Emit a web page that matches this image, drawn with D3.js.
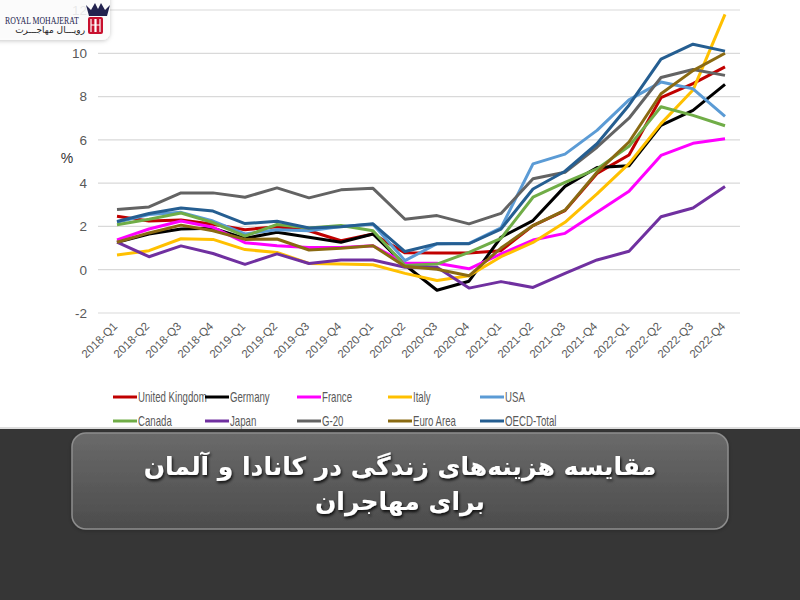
<!DOCTYPE html>
<html><head><meta charset="utf-8">
<script src="https://cdn.jsdelivr.net/npm/d3@7"></script>
<style>html,body{margin:0;padding:0;background:#fff;}svg{display:block;}</style>
</head><body>
<svg id="chart" width="800" height="600"></svg>
<script>
const categories = ["2018-Q1","2018-Q2","2018-Q3","2018-Q4","2019-Q1","2019-Q2","2019-Q3","2019-Q4","2020-Q1","2020-Q2","2020-Q3","2020-Q4","2021-Q1","2021-Q2","2021-Q3","2021-Q4","2022-Q1","2022-Q2","2022-Q3","2022-Q4"];
const yTicks = [-2,0,2,4,6,8,10,12];
const seriesNames = ["United Kingdom","Germany","France","Italy","USA","Canada","Japan","G-20","Euro Area","OECD-Total"];
const seriesColors = ["#c00000","#000000","#ff00ff","#ffc000","#5b9bd5","#70ad47","#7030a0","#636363","#8a6a12","#255e91"];
const ukValues      = [2.47,2.25,2.3,2.1,1.85,1.99,1.8,1.34,1.65,0.78,0.77,0.77,0.88,2.04,2.73,4.45,5.3,7.95,8.6,9.37];
const germanyValues = [1.27,1.65,1.88,1.92,1.45,1.73,1.5,1.27,1.65,0.22,-0.95,-0.53,1.5,2.27,3.85,4.72,4.8,6.67,7.36,8.56];
const franceValues  = [1.38,1.88,2.25,1.96,1.25,1.11,1.03,1.03,1.11,0.3,0.3,0.04,0.73,1.37,1.68,2.65,3.62,5.28,5.84,6.05];
const italyValues   = [0.68,0.88,1.43,1.4,0.93,0.8,0.29,0.26,0.23,-0.17,-0.5,-0.28,0.6,1.26,2.19,3.5,4.9,6.75,8.3,11.8];
const usaValues     = [2.19,2.55,2.65,2.25,1.65,1.85,1.8,2.0,2.1,0.42,1.2,1.22,1.93,4.89,5.34,6.44,7.85,8.67,8.36,7.08];
const canadaValues  = [2.08,2.33,2.62,2.18,1.55,2.09,1.93,2.04,1.8,0.19,0.26,0.8,1.45,3.35,4.04,4.66,5.7,7.53,7.13,6.65];
const japanValues   = [1.27,0.6,1.1,0.75,0.25,0.73,0.29,0.45,0.45,0.11,0.11,-0.85,-0.55,-0.82,-0.17,0.45,0.85,2.45,2.85,3.84];
const g20Values     = [2.78,2.9,3.55,3.55,3.35,3.78,3.32,3.69,3.76,2.33,2.5,2.12,2.6,4.2,4.5,5.66,7.0,8.88,9.25,8.98];
const euroValues    = [1.27,1.7,2.06,1.8,1.4,1.42,0.91,0.99,1.11,0.15,0.02,-0.28,1.0,2.04,2.75,4.5,5.9,8.13,9.2,10.0];
const oecdValues    = [2.23,2.6,2.85,2.71,2.13,2.24,1.93,1.99,2.12,0.84,1.2,1.2,1.88,3.73,4.55,5.82,7.6,9.73,10.42,10.1];
const allValues = [ukValues,germanyValues,franceValues,italyValues,usaValues,canadaValues,japanValues,g20Values,euroValues,oecdValues];
const titleLines = ["مقایسه هزینه‌های زندگی در کانادا و آلمان","برای مهاجران"];

const svg = d3.select("#chart");
const x = d3.scaleBand().domain(categories).range([101,741]).padding(0);
const xc = d => x(d) + x.bandwidth()/2;
const y = d3.scaleLinear().domain([-2,12]).range([313,10]);

// gridlines
svg.append("g").selectAll("line").data(yTicks).join("line")
  .attr("x1",98).attr("x2",740).attr("y1",d=>y(d)).attr("y2",d=>y(d))
  .attr("stroke","#d9d9d9").attr("stroke-width",1.2);

// y axis labels
const yAxis = d3.axisLeft(y).tickValues(yTicks).tickSize(0).tickPadding(0).tickFormat(d=>String(d));
const gy = svg.append("g").attr("transform","translate(87,0)").call(yAxis);
gy.select(".domain").remove();
gy.selectAll("text").attr("fill","#595959").style("font-family","'Liberation Sans',Arial,sans-serif").style("font-size","13.5px").attr("x",0);

svg.append("text").attr("x",67).attr("y",163).attr("text-anchor","middle")
  .style("font-family","'Liberation Sans',Arial,sans-serif").style("font-size","14px").attr("fill","#333").text("%");

// x axis labels
const xAxis = d3.axisBottom(x).tickSize(0).tickPadding(0);
const gx = svg.append("g").call(xAxis);
gx.select(".domain").remove();
gx.selectAll(".tick").attr("transform",null);
gx.selectAll(".tick text")
  .attr("transform",d=>`translate(${xc(d)+1},327) rotate(-45)`)
  .attr("x",0).attr("y",0).attr("dy",null)
  .attr("text-anchor","end").attr("fill","#595959")
  .style("font-family","'Liberation Sans',Arial,sans-serif").style("font-size","11.5px");

// lines
const line = d3.line().x((d,i)=>xc(categories[i])).y(d=>y(d));
svg.append("g").selectAll("path").data(allValues).join("path")
  .attr("d",line).attr("fill","none")
  .attr("stroke",(d,i)=>seriesColors[i]).attr("stroke-width",3)
  .attr("stroke-linejoin","round");

// legend
const legCols = [113,205,297,388,480];
const legRows = [397,421];
const legScale = 0.69;
const leg = svg.append("g").selectAll("g").data(seriesNames).join("g")
  .attr("transform",(d,i)=>`translate(${legCols[i%5]},${legRows[Math.floor(i/5)]})`);
leg.append("line").attr("x1",0).attr("x2",24).attr("y1",0).attr("y2",0)
  .attr("stroke",(d,i)=>seriesColors[i]).attr("stroke-width",3);
leg.append("text").attr("transform",`translate(25,5) scale(${legScale},1)`).text(d=>d)
  .attr("fill","#595959").style("font-family","'Liberation Sans',Arial,sans-serif").style("font-size","14px");

// defs
const defs = svg.append("defs");
const f = defs.append("filter").attr("id","sh").attr("x","-20%").attr("y","-20%").attr("width","140%").attr("height","160%");
f.append("feDropShadow").attr("dx",0).attr("dy",1).attr("stdDeviation",2).attr("flood-color","#000").attr("flood-opacity",0.25);
const f2 = defs.append("filter").attr("id","tsh").attr("x","-10%").attr("y","-30%").attr("width","120%").attr("height","160%");
f2.append("feDropShadow").attr("dx",1).attr("dy",2).attr("stdDeviation",1.5).attr("flood-color","#000").attr("flood-opacity",0.9);
const g1 = defs.append("linearGradient").attr("id","bg").attr("x1",0).attr("y1",0).attr("x2",0).attr("y2",1);
g1.append("stop").attr("offset","0%").attr("stop-color","#6a6a6a");
g1.append("stop").attr("offset","100%").attr("stop-color","#4c4c4c");

// logo
const logo = svg.append("g");
logo.append("rect").attr("x",-10).attr("y",-10).attr("width",120).attr("height",50).attr("rx",8)
  .attr("fill","#fff").attr("fill-opacity",0.85).attr("filter","url(#sh)");
logo.append("text").attr("transform","translate(5,24) scale(0.82,1)").text("ROYAL MOHAJERAT")
  .attr("fill","#262650").style("font-family","'Liberation Serif','DejaVu Serif',serif").style("font-size","9.5px");
logo.append("text").attr("x",85).attr("y",33).attr("text-anchor","start").attr("direction","rtl").text("رویـــال مهاجـــرت")
  .attr("fill","#222").style("font-family","'DejaVu Sans',sans-serif").style("font-size","9px");
logo.append("path").attr("d","M86,5 L91,10 L95,3 L98,9 L101,3 L105,10 L110,5 L107,16 L89,16 Z").attr("fill","#23234f");
logo.append("rect").attr("x",88).attr("y",17).attr("width",15).attr("height",17).attr("rx",2).attr("fill","#c8102e");
logo.append("path").attr("d","M91,19 V32 M95,19 V32 M91,25 H95 M96,19 V32 M100,19 V32 M96,25 H100").attr("stroke","#fff").attr("stroke-width",1.2);

// bottom banner
svg.append("line").attr("x1",0).attr("x2",800).attr("y1",428).attr("y2",428).attr("stroke","#bdbdbd");
svg.append("rect").attr("x",0).attr("y",429).attr("width",800).attr("height",171).attr("fill","#363636");
svg.append("rect").attr("x",72).attr("y",433).attr("width",656).attr("height",96).attr("rx",14)
  .attr("fill","url(#bg)").attr("stroke","#8d8d8d").attr("stroke-width",1.5).attr("filter","url(#sh)");
svg.append("g").selectAll("text").data(titleLines).join("text")
  .attr("x",400).attr("y",(d,i)=>475+i*35).attr("text-anchor","middle").attr("direction","rtl")
  .attr("fill","#fff").attr("filter","url(#tsh)")
  .style("font-family","'DejaVu Sans',sans-serif").style("font-weight","bold").style("font-size","25px")
  .text(d=>d);
</script>
</body></html>
